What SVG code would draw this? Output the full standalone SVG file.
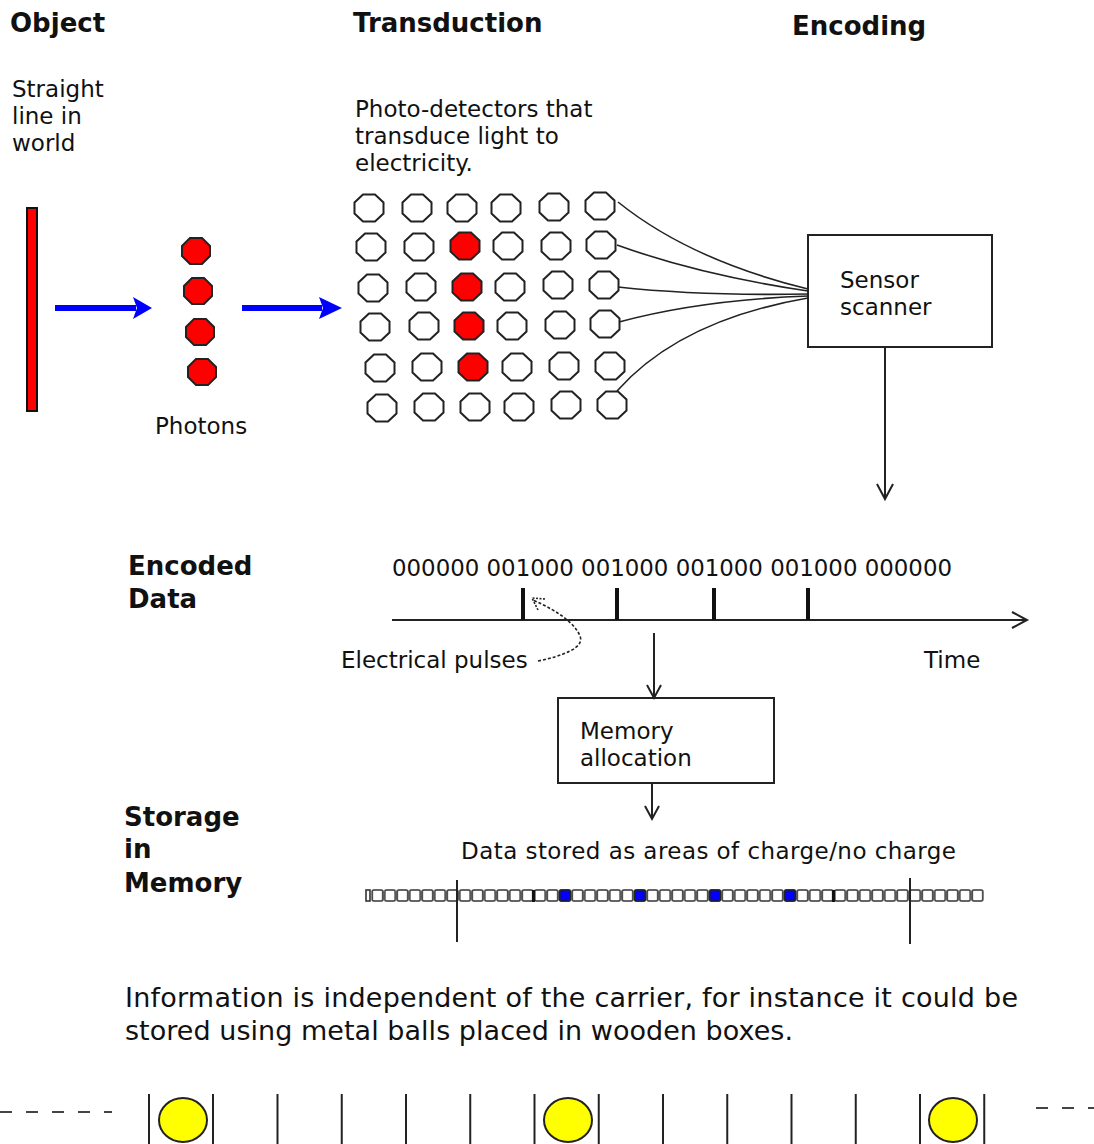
<svg xmlns="http://www.w3.org/2000/svg" xmlns:xlink="http://www.w3.org/1999/xlink" width="1094" height="1144" viewBox="0 0 1094 1144">
<style>
text{font-family:"DejaVu Sans","Liberation Sans",sans-serif;fill:#111}
.h{font-size:26px;font-weight:bold}
.t{font-size:23px}
.big{font-size:27px}
.det{fill:#fff;stroke:#222;stroke-width:2}
.red{fill:#f00;stroke:#222;stroke-width:2}
.box{fill:#fff;stroke:#222;stroke-width:2}
.ln{fill:none;stroke:#222;stroke-width:2}
.thin{fill:none;stroke:#222;stroke-width:1.6}
.blue{fill:none;stroke:#00f;stroke-width:6}
.bluehead{fill:#00f}
.ball{fill:#ff0;stroke:#222;stroke-width:2}
</style>
<defs>
<polygon id="oct" points="-6,-13.5 6,-13.5 14.5,-5.5 14.5,5.5 6,13.5 -6,13.5 -14.5,5.5 -14.5,-5.5"/>
<polygon id="pho" points="-6,-13 6,-13 14,-5 14,5 6,13 -6,13 -14,5 -14,-5"/>
<pattern id="cells" patternUnits="userSpaceOnUse" x="371.25" y="889" width="12.5" height="14">
<rect x="1" y="1" width="10.5" height="11" rx="1.5" fill="#fff" stroke="#333" stroke-width="1.6"/>
</pattern>
</defs>

<g id="headings">
<text class="h" x="10" y="32">Object</text>
<text class="h" x="353" y="32">Transduction</text>
<text class="h" x="792" y="35">Encoding</text>
</g>

<g id="object">
<text class="t" x="12" y="97">Straight</text>
<text class="t" x="12" y="124">line in</text>
<text class="t" x="12" y="151">world</text>
<rect x="27" y="208" width="10" height="203" fill="#f00" stroke="#111" stroke-width="2"/>
</g>

<g id="photons">
<use xlink:href="#pho" href="#pho" class="red" transform="translate(196,251)"/>
<use xlink:href="#pho" href="#pho" class="red" transform="translate(198,291)"/>
<use xlink:href="#pho" href="#pho" class="red" transform="translate(200,332)"/>
<use xlink:href="#pho" href="#pho" class="red" transform="translate(202,372)"/>
<text class="t" x="155" y="434">Photons</text>
</g>

<g id="detectors">
<text class="t" x="355" y="117">Photo-detectors that</text>
<text class="t" x="355" y="144">transduce light to</text>
<text class="t" x="355" y="171">electricity.</text>
<use href="#oct" class="det" transform="translate(369,208)"/>
<use href="#oct" class="det" transform="translate(417,208)"/>
<use href="#oct" class="det" transform="translate(462,208)"/>
<use href="#oct" class="det" transform="translate(506,208)"/>
<use href="#oct" class="det" transform="translate(554,207)"/>
<use href="#oct" class="det" transform="translate(600,206)"/>
<use href="#oct" class="det" transform="translate(371,247)"/>
<use href="#oct" class="det" transform="translate(419,247)"/>
<use href="#oct" class="red" transform="translate(465,246)"/>
<use href="#oct" class="det" transform="translate(508,246)"/>
<use href="#oct" class="det" transform="translate(556,246)"/>
<use href="#oct" class="det" transform="translate(601,245)"/>
<use href="#oct" class="det" transform="translate(373,288)"/>
<use href="#oct" class="det" transform="translate(421,287)"/>
<use href="#oct" class="red" transform="translate(467,287)"/>
<use href="#oct" class="det" transform="translate(510,287)"/>
<use href="#oct" class="det" transform="translate(558,285)"/>
<use href="#oct" class="det" transform="translate(604,285)"/>
<use href="#oct" class="det" transform="translate(375,327)"/>
<use href="#oct" class="det" transform="translate(424,326)"/>
<use href="#oct" class="red" transform="translate(469,326)"/>
<use href="#oct" class="det" transform="translate(512,326)"/>
<use href="#oct" class="det" transform="translate(560,325)"/>
<use href="#oct" class="det" transform="translate(605,324)"/>
<use href="#oct" class="det" transform="translate(380,368)"/>
<use href="#oct" class="det" transform="translate(427,367)"/>
<use href="#oct" class="red" transform="translate(473,367)"/>
<use href="#oct" class="det" transform="translate(517,367)"/>
<use href="#oct" class="det" transform="translate(564,366)"/>
<use href="#oct" class="det" transform="translate(610,366)"/>
<use href="#oct" class="det" transform="translate(382,408)"/>
<use href="#oct" class="det" transform="translate(429,407)"/>
<use href="#oct" class="det" transform="translate(475,407)"/>
<use href="#oct" class="det" transform="translate(519,407)"/>
<use href="#oct" class="det" transform="translate(566,405)"/>
<use href="#oct" class="det" transform="translate(612,405)"/>
</g>

<g id="sensor">
<rect class="box" x="808" y="235" width="184" height="112"/>
<text class="t" x="840" y="288">Sensor</text>
<text class="t" x="840" y="315">scanner</text>
</g>

<g id="encoded">
<text class="h" x="128" y="575">Encoded</text>
<text class="h" x="128" y="608">Data</text>
<text class="t" x="392" y="576" textLength="560" lengthAdjust="spacingAndGlyphs">000000 001000 001000 001000 001000 000000</text>
<line class="ln" x1="392" y1="620" x2="1027" y2="620"/>
<polyline class="ln" points="1012,612 1027,620 1012,628"/>
<line x1="523" y1="588" x2="523" y2="620" stroke="#111" stroke-width="4"/>
<line x1="617" y1="588" x2="617" y2="620" stroke="#111" stroke-width="4"/>
<line x1="714" y1="588" x2="714" y2="620" stroke="#111" stroke-width="4"/>
<line x1="808" y1="588" x2="808" y2="620" stroke="#111" stroke-width="4"/>
<text class="t" x="341" y="668">Electrical pulses</text>
<text class="t" x="924" y="668">Time</text>
</g>

<g id="memory">
<rect class="box" x="558" y="698" width="216" height="85"/>
<text class="t" x="580" y="739">Memory</text>
<text class="t" x="580" y="766">allocation</text>
</g>

<g id="storage">
<text class="h" x="124" y="826">Storage</text>
<text class="h" x="124" y="858">in</text>
<text class="h" x="124" y="892">Memory</text>
<text class="t" x="461" y="859" textLength="495">Data stored as areas of charge/no charge</text>
<rect x="366" y="890" width="4" height="11" fill="#fff" stroke="#333" stroke-width="1.6"/>
<rect x="371.25" y="889" width="612.5" height="14" fill="url(#cells)"/>
<rect x="559.75" y="890" width="10.5" height="11" rx="1.5" fill="#00f" stroke="#222" stroke-width="1.6"/>
<rect x="634.75" y="890" width="10.5" height="11" rx="1.5" fill="#00f" stroke="#222" stroke-width="1.6"/>
<rect x="709.75" y="890" width="10.5" height="11" rx="1.5" fill="#00f" stroke="#222" stroke-width="1.6"/>
<rect x="784.75" y="890" width="10.5" height="11" rx="1.5" fill="#00f" stroke="#222" stroke-width="1.6"/>
<line x1="533.5" y1="890" x2="533.5" y2="902" stroke="#111" stroke-width="3"/>
<line x1="833.5" y1="890" x2="833.5" y2="902" stroke="#111" stroke-width="3"/>
<line class="ln" x1="457" y1="880" x2="457" y2="942"/>
<line class="ln" x1="910" y1="878" x2="910" y2="944"/>
</g>

<g id="carrier">
<text class="big" x="125" y="1007" textLength="893">Information is independent of the carrier, for instance it could be</text>
<text class="big" x="125" y="1040" textLength="668">stored using metal balls placed in wooden boxes.</text>
<line x1="0" y1="1112" x2="112" y2="1112" stroke="#444" stroke-width="2" stroke-dasharray="12,14"/>
<line x1="1036" y1="1108" x2="1094" y2="1108" stroke="#444" stroke-width="2" stroke-dasharray="12,14"/>
<g stroke="#222" stroke-width="2">
<line x1="149" y1="1094" x2="149" y2="1144"/>
<line x1="213" y1="1094" x2="213" y2="1144"/>
<line x1="277.5" y1="1094" x2="277.5" y2="1144"/>
<line x1="341.75" y1="1094" x2="341.75" y2="1144"/>
<line x1="406" y1="1094" x2="406" y2="1144"/>
<line x1="470.25" y1="1094" x2="470.25" y2="1144"/>
<line x1="534.5" y1="1094" x2="534.5" y2="1144"/>
<line x1="598.75" y1="1094" x2="598.75" y2="1144"/>
<line x1="663" y1="1094" x2="663" y2="1144"/>
<line x1="727.25" y1="1094" x2="727.25" y2="1144"/>
<line x1="791.5" y1="1094" x2="791.5" y2="1144"/>
<line x1="855.75" y1="1094" x2="855.75" y2="1144"/>
<line x1="920" y1="1094" x2="920" y2="1144"/>
<line x1="984.25" y1="1094" x2="984.25" y2="1144"/>
</g>
<ellipse class="ball" cx="183" cy="1120" rx="24" ry="22"/>
<ellipse class="ball" cx="568" cy="1120" rx="24" ry="22"/>
<ellipse class="ball" cx="953" cy="1120" rx="24" ry="22"/>
</g>

<g id="connectors">
<line class="blue" x1="55" y1="308" x2="136" y2="308"/>
<polygon class="bluehead" points="133,297 152,308 133,319 137,308"/>
<line class="blue" x1="242" y1="308" x2="322" y2="308"/>
<polygon class="bluehead" points="319,297 342,308 319,319 323,308"/>
<path class="thin" d="M618,202 Q690,260 808,289"/>
<path class="thin" d="M617,245 Q700,275 808,291"/>
<path class="thin" d="M618,287 Q700,296 808,294"/>
<path class="thin" d="M619,322 Q700,300 808,296"/>
<path class="thin" d="M617,391 Q680,320 808,298"/>
<line class="ln" x1="885" y1="347" x2="885" y2="499"/>
<polyline class="ln" points="877,484 885,499 893,484"/>
<line class="ln" x1="654" y1="633" x2="654" y2="698"/>
<polyline class="ln" points="647,685 654,698 661,685"/>
<line class="ln" x1="652" y1="783" x2="652" y2="819"/>
<polyline class="ln" points="645,806 652,819 659,806"/>
<path d="M538,661 C562,656 585,648 580,636 C575,624 560,612 533,600" fill="none" stroke="#222" stroke-width="1.6" stroke-dasharray="3,2"/>
<polyline points="545,599 532,598 538,610" fill="none" stroke="#222" stroke-width="1.6" stroke-dasharray="2,1.5"/>
</g>
</svg>
